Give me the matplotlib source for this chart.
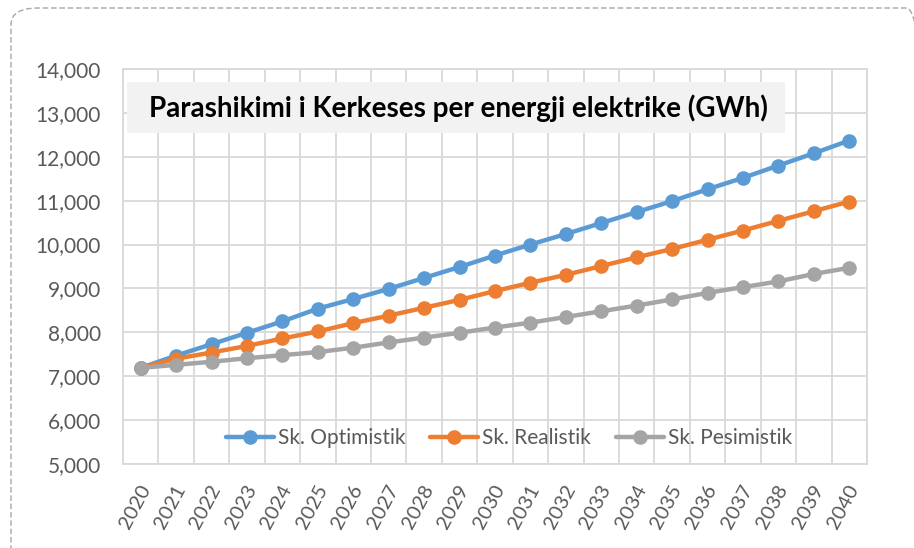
import matplotlib
matplotlib.use("Agg")
import matplotlib.pyplot as plt
from matplotlib.patches import FancyBboxPatch, Rectangle
from matplotlib.ticker import FuncFormatter, MultipleLocator
import matplotlib.transforms as mtransforms

years = [str(y) for y in range(2020, 2041)]
optimistik = [7190, 7470, 7730, 7990, 8250, 8540, 8760, 8990, 9240, 9490, 9750,
              10000, 10240, 10490, 10740, 10990, 11260, 11520, 11800, 12080, 12370]
realistik = [7190, 7400, 7540, 7690, 7860, 8020, 8210, 8380, 8560, 8740, 8940,
             9130, 9310, 9510, 9710, 9900, 10110, 10320, 10540, 10760, 10980]
pesimistik = [7190, 7260, 7330, 7410, 7480, 7550, 7650, 7770, 7880, 7990, 8110,
              8220, 8350, 8480, 8610, 8750, 8900, 9030, 9160, 9330, 9470]
series_names = ["Sk. Optimistik", "Sk. Realistik", "Sk. Pesimistik"]
title = "Parashikimi i Kerkeses per energji elektrike (GWh)"

colors = ["#5B9BD5", "#ED7D31", "#A5A5A5"]
plt.rcParams['font.family'] = ['Lato', 'DejaVu Sans']

fig = plt.figure(figsize=(9.14, 5.48), dpi=100)
W, H = 914, 548

# outer dashed rounded border
border = FancyBboxPatch((11 / W, -20 / H), (W + 20 - 11) / W, (H + 20 - 8) / H,
                        boxstyle="round,pad=0,rounding_size=0.03",
                        transform=fig.transFigure, fill=False,
                        edgecolor="#A6A6A6", linestyle=(0, (4, 2)), linewidth=1.0)
fig.patches.append(border)

ax = fig.add_axes([123 / W, 1 - 464 / H, (867 - 123) / W, (464 - 69) / H])
x = list(range(len(years)))
for vals, name, c in zip([optimistik, realistik, pesimistik], series_names, colors):
    ax.plot(x, vals, color=c, linewidth=3.2, marker='o', markersize=9.5,
            label=name, zorder=3, solid_capstyle='round')

ax.set_xlim(-0.5, len(years) - 0.5)
ax.set_ylim(5000, 14000)
ax.yaxis.set_major_locator(MultipleLocator(1000))
ax.yaxis.set_major_formatter(FuncFormatter(lambda v, p: f"{int(v):,}"))
ax.set_xticks(x)
ax.set_xticklabels(years, rotation=62, ha='right', va='center', rotation_mode='anchor')
ax.set_xticks([i - 0.5 for i in range(len(years) + 1)], minor=True)
ax.grid(False)
ax.grid(True, which='minor', axis='x', color='#D9D9D9', linewidth=1.3)
ax.grid(True, which='major', axis='y', color='#D9D9D9', linewidth=1.3)
ax.set_axisbelow(True)
ax.tick_params(axis='both', which='both', length=0, colors='#595959')
ax.tick_params(axis='y', labelsize=15, pad=16)
ax.tick_params(axis='x', labelsize=14.5, pad=16)
shift = mtransforms.ScaledTranslation(5 / 100, 0, fig.dpi_scale_trans)
for lbl in ax.get_xticklabels():
    lbl.set_transform(lbl.get_transform() + shift)
for s in ax.spines.values():
    s.set_color('#D9D9D9')
    s.set_linewidth(1.3)

leg = ax.legend(loc='center', bbox_to_anchor=(509 / W, 1 - 438 / H),
                bbox_transform=fig.transFigure, ncol=3, frameon=False,
                fontsize=15, handlelength=2.3, columnspacing=1.2, handletextpad=0.2,
                markerscale=1.0)
for t in leg.get_texts():
    t.set_color('#595959')

# title box
fig.patches.append(Rectangle((127 / W, 1 - 133 / H), (785 - 127) / W, (133 - 82) / H,
                             transform=fig.transFigure, facecolor='#F2F2F2',
                             edgecolor='none', zorder=5))
fig.text(458 / W, 1 - 108 / H, title, ha='center', va='center', fontsize=20,
         fontweight='bold', color='#000000', zorder=6)

fig.savefig("out.png", dpi=100)
